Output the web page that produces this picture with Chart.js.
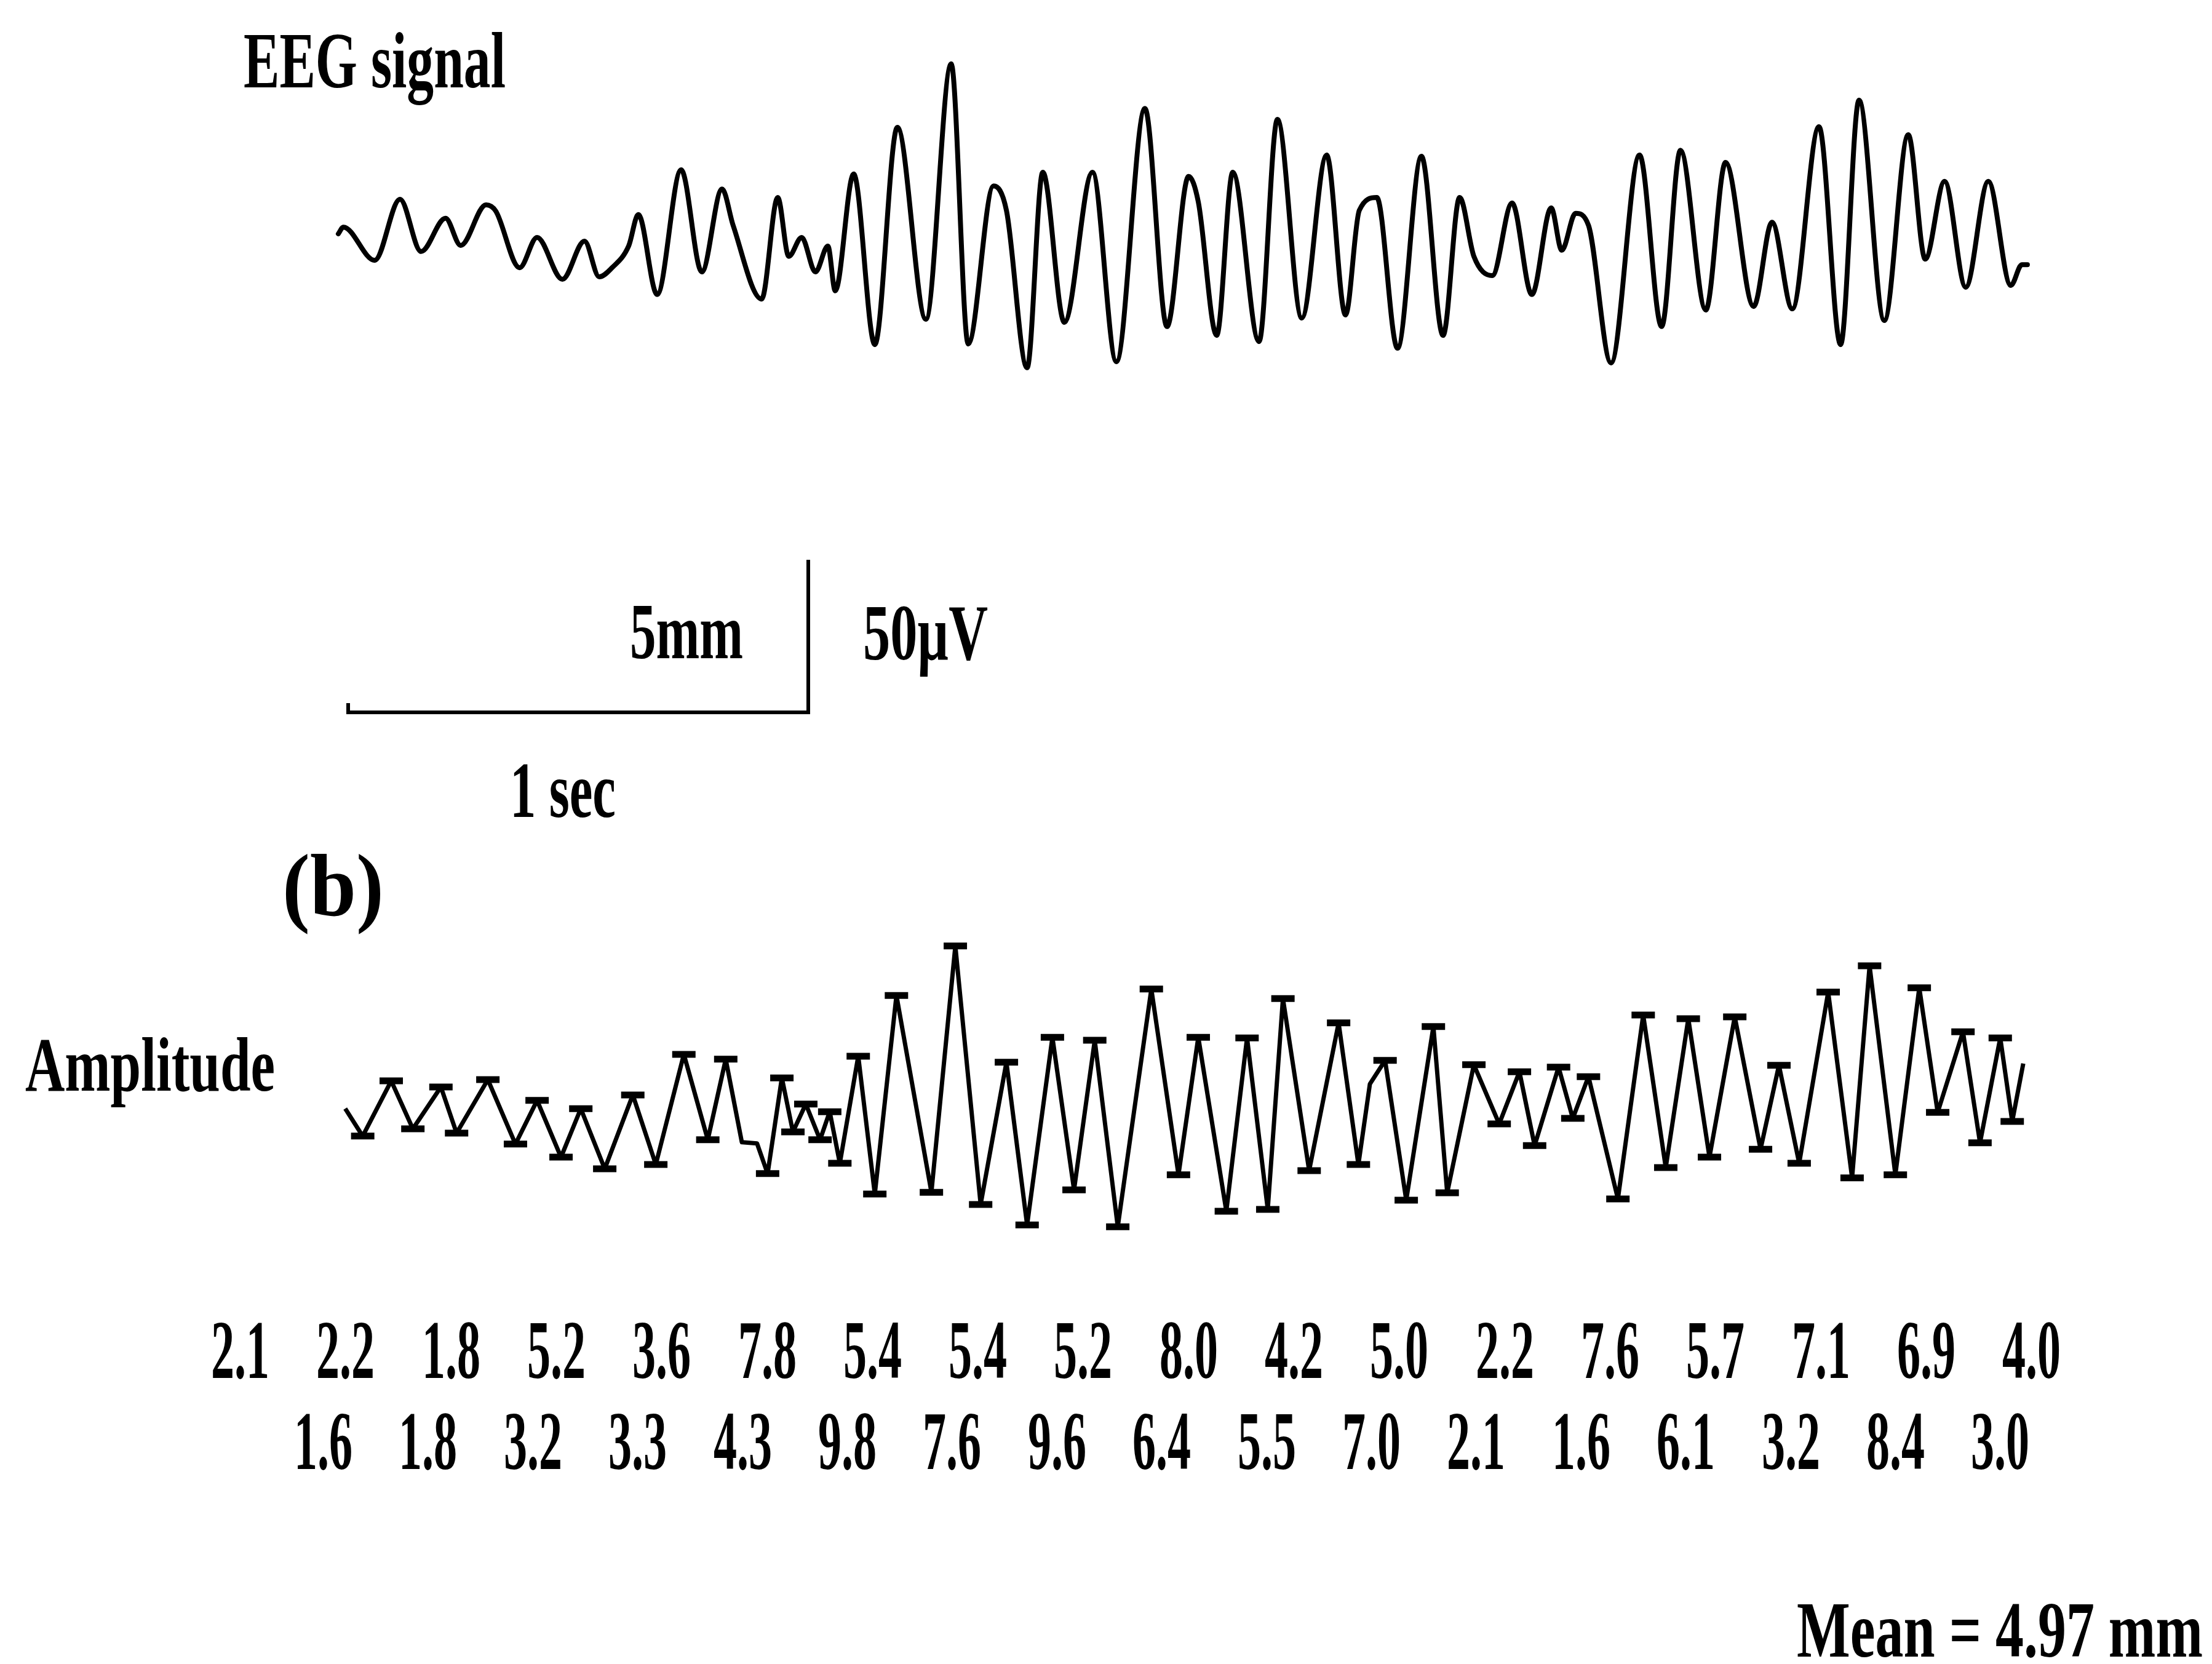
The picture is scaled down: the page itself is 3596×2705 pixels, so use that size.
<!DOCTYPE html>
<html><head><meta charset="utf-8">
<script src="https://cdn.jsdelivr.net/npm/chart.js@4"></script>
<style>
html,body{margin:0;padding:0;background:#fff;}
#wrap{position:relative;width:3596px;height:2705px;overflow:hidden;background:#fff;}
#c{position:absolute;left:0;top:0;}
.lbl{position:absolute;white-space:nowrap;font-family:"Liberation Serif","Times New Roman",serif;color:#000;transform-origin:0 0;line-height:1;}
</style></head><body>
<div id="wrap"><canvas id="c" width="3596" height="2705"></canvas></div>
<script>
// ---------- DATA ----------
// (a) EEG signal: time in seconds, voltage in microvolts
const eegTime = [0.000,0.011,0.079,0.134,0.180,0.233,0.266,0.321,0.342,0.394,
 0.432,0.487,0.535,0.567,0.595,0.631,0.652,0.693,0.745,0.790,
 0.834,0.858,0.920,0.955,0.979,1.007,1.037,1.064,1.080,1.120,
 1.166,1.215,1.277,1.332,1.369,1.424,1.452,1.497,1.531,1.578,
 1.639,1.691,1.753,1.801,1.848,1.869,1.909,1.944,2.001,2.041,
 2.094,2.148,2.189,2.219,2.257,2.302,2.354,2.401,2.437,2.468,
 2.508,2.551,2.594,2.636,2.659,2.689,2.717,2.766,2.828,2.876,
 2.917,2.972,3.015,3.076,3.116,3.160,3.218,3.265,3.305,3.360,
 3.412,3.449,3.491,3.537,3.586,3.635,3.659,3.671];
const eegMicrovolts = [2.0,4.2,-6.7,13.3,-3.8,7.1,-1.8,11.5,9.5,-9.1,
 0.8,-12.9,-0.4,-12.1,-9.1,-2.0,8.3,-17.9,23.0,-10.5,
 16.7,4.8,-19.4,13.9,-5.4,0.8,-10.5,-2.0,-16.7,21.6,
 -34.3,36.9,-26.0,57.7,-34.1,17.7,9.7,-41.9,22.2,-27.0,
 22.2,-39.9,43.1,-28.4,20.8,12.5,-31.3,22.2,-33.3,39.5,
 -25.6,27.8,-24.6,9.7,13.9,-35.5,27.4,-31.3,13.9,-5.4,
 -11.7,12.1,-17.9,10.5,-3.4,8.7,4.8,-40.3,27.8,-28.4,
 29.4,-23.0,25.4,-21.8,5.8,-22.6,37.1,-34.3,45.8,-26.4,
 34.5,-6.3,19.2,-15.5,19.2,-14.9,-8.1,-8.1];

// (b) amplitude trace (peaks / troughs): time in seconds, deflection in mm
const ampTime = [0.015,0.053,0.115,0.162,0.223,0.257,0.325,0.385,0.432,0.484,
 0.527,0.579,0.640,0.690,0.751,0.803,0.842,0.877,0.910,0.933,
 0.964,0.988,1.016,1.047,1.068,1.090,1.130,1.166,1.213,1.289,
 1.341,1.396,1.452,1.497,1.552,1.599,1.644,1.694,1.767,1.826,
 1.869,1.930,1.975,2.020,2.053,2.110,2.174,2.217,2.242,2.275,
 2.321,2.380,2.410,2.468,2.523,2.567,2.600,2.652,2.683,2.717,
 2.781,2.836,2.885,2.934,2.980,3.035,3.091,3.131,3.175,3.238,
 3.290,3.328,3.384,3.436,3.476,3.531,3.568,3.612,3.638,3.662];
const ampMillimetres = [0.56,-0.34,1.47,-0.10,1.27,-0.24,1.51,-0.60,0.83,-1.03,
 0.56,-1.41,1.01,-1.27,2.34,-0.46,2.18,-0.54,-0.58,-1.57,
 1.57,-0.20,0.71,-0.46,0.46,-1.23,2.28,-2.24,4.27,-2.18,
 5.89,-2.58,2.08,-3.25,2.90,-2.10,2.80,-3.31,4.48,-1.61,
 2.90,-2.80,2.88,-2.74,4.17,-1.47,3.37,-1.27,1.37,2.14,
 -2.44,3.25,-2.20,2.00,0.06,1.77,-0.65,1.92,0.24,1.61,
 -2.40,3.63,-1.37,3.51,-1.03,3.57,-0.77,1.98,-1.23,4.38,
 -1.71,5.24,-1.61,4.52,0.44,3.08,-0.56,2.88,0.14,2.04];

// measured wave amplitudes (mm), two staggered rows
const amplitudesRow1 = [2.1,2.2,1.8,5.2,3.6,7.8,5.4,5.4,5.2,8.0,4.2,5.0,2.2,7.6,5.7,7.1,6.9,4.0];
const amplitudesRow2 = [1.6,1.8,3.2,3.3,4.3,9.8,7.6,9.6,6.4,5.5,7.0,2.1,1.6,6.1,3.2,8.4,3.0];

// calibration bar
const calibSeconds = 1;
const calibMicrovolts = 50;
const calibMillimetres = 5;

// ---------- LAYOUT / STYLE ----------
const W = 3596, H = 2705;
const PX_PER_SEC = 748;        // horizontal scale
const X0_PX = 550;             // t = 0
const PX_PER_UV = 4.96;        // EEG vertical scale
const EEG_ZERO_PX = 390;
const PX_PER_MM = 49.6;        // amplitude trace vertical scale
const AMP_ZERO_PX = 1830;
const CALIB_LEFT_PX = 566, CALIB_BASE_PX = 1158;
const unmarked = [0, 17, 18, 48, ampTime.length - 1];

const xMin = -X0_PX / PX_PER_SEC, xMax = (W - X0_PX) / PX_PER_SEC;
const eegMax = EEG_ZERO_PX / PX_PER_UV, eegMin = (EEG_ZERO_PX - H) / PX_PER_UV;
const ampMax = AMP_ZERO_PX / PX_PER_MM, ampMin = (AMP_ZERO_PX - H) / PX_PER_MM;

const eegPts = eegTime.map((t, i) => ({x: t, y: eegMicrovolts[i]}));
const ampPts = ampTime.map((t, i) => ({x: t, y: ampMillimetres[i]}));
const cx0 = (CALIB_LEFT_PX - X0_PX) / PX_PER_SEC;
const cy0 = (EEG_ZERO_PX - CALIB_BASE_PX) / PX_PER_UV;
const calibPts = [
  {x: cx0, y: cy0 + 3},
  {x: cx0, y: cy0},
  {x: cx0 + calibSeconds, y: cy0},
  {x: cx0 + calibSeconds, y: cy0 + calibMicrovolts}
];

new Chart(document.getElementById('c'), {
  type: 'line',
  data: {
    datasets: [
      {label: 'EEG signal', data: eegPts, yAxisID: 'yEeg', borderColor: '#000', borderWidth: 8,
       pointRadius: 0, cubicInterpolationMode: 'monotone', borderJoinStyle: 'round', borderCapStyle: 'round', fill: false},
      {label: 'calibration', data: calibPts, yAxisID: 'yEeg', borderColor: '#000', borderWidth: 6,
       pointRadius: 0, tension: 0, borderJoinStyle: 'miter', fill: false},
      {label: 'Amplitude', data: ampPts, yAxisID: 'yAmp', borderColor: '#000', borderWidth: 7,
       tension: 0, borderJoinStyle: 'round', fill: false,
       pointStyle: 'line',
       pointRadius: ampPts.map((p, i) => unmarked.includes(i) ? 0 : 19),
       pointBorderWidth: 11, pointBorderColor: '#000', pointBackgroundColor: '#000'}
    ]
  },
  options: {
    responsive: false, animation: false, events: [],
    devicePixelRatio: 1,
    layout: {padding: 0},
    plugins: {legend: {display: false}, tooltip: {enabled: false}, title: {display: false}},
    scales: {
      x: {type: 'linear', min: xMin, max: xMax, display: false},
      yEeg: {type: 'linear', min: eegMin, max: eegMax, display: false},
      yAmp: {type: 'linear', min: ampMin, max: ampMax, display: false}
    }
  }
});

// ---------- TEXT ----------
const wrap = document.getElementById('wrap');
function placeLabel(L) {
  const d = document.createElement('div');
  d.className = 'lbl';
  d.style.fontSize = L.size + 'px';
  d.style.fontWeight = L.weight || 'bold';
  d.textContent = L.text;
  const probe = document.createElement('span');
  probe.style.cssText = 'display:inline-block;width:0;height:0;vertical-align:baseline;';
  d.appendChild(probe);
  d.style.left = '0px'; d.style.top = '0px';
  wrap.appendChild(d);
  const r = d.getBoundingClientRect();
  const base = probe.getBoundingClientRect().top - r.top;
  const sx = L.w / r.width;
  d.style.left = L.x + 'px';
  d.style.top = (L.base - base) + 'px';
  d.style.transform = 'scaleX(' + sx.toFixed(4) + ')';
}

const all = amplitudesRow1.concat(amplitudesRow2);
const mean = all.reduce((a, b) => a + b, 0) / all.length;

const labels = [
  {text: 'EEG signal', x: 396, base: 142, w: 426, size: 130},
  {text: '5mm', x: 1024, base: 1070, w: 184, size: 130},
  {text: '50\u00B5V', x: 1403, base: 1072, w: 203, size: 130},
  {text: '1 sec', x: 829, base: 1328, w: 172, size: 130},
  {text: '(b)', x: 459, base: 1488, w: 165, size: 145, weight: 'bold'},
  {text: 'Amplitude', x: 41, base: 1773, w: 406, size: 125},
  {text: 'Mean = ' + mean.toFixed(2) + ' mm', x: 2921, base: 2693, w: 660, size: 130}
];
amplitudesRow1.forEach((v, i) => labels.push({text: v.toFixed(1), x: 343 + i * 171.3, base: 2240, w: 95, size: 135}));
amplitudesRow2.forEach((v, i) => labels.push({text: v.toFixed(1), x: 478 + i * 170.4, base: 2388, w: 95, size: 135}));

function go() { labels.forEach(placeLabel); }
if (document.fonts && document.fonts.ready) document.fonts.ready.then(go); else go();
</script>
</body></html>
